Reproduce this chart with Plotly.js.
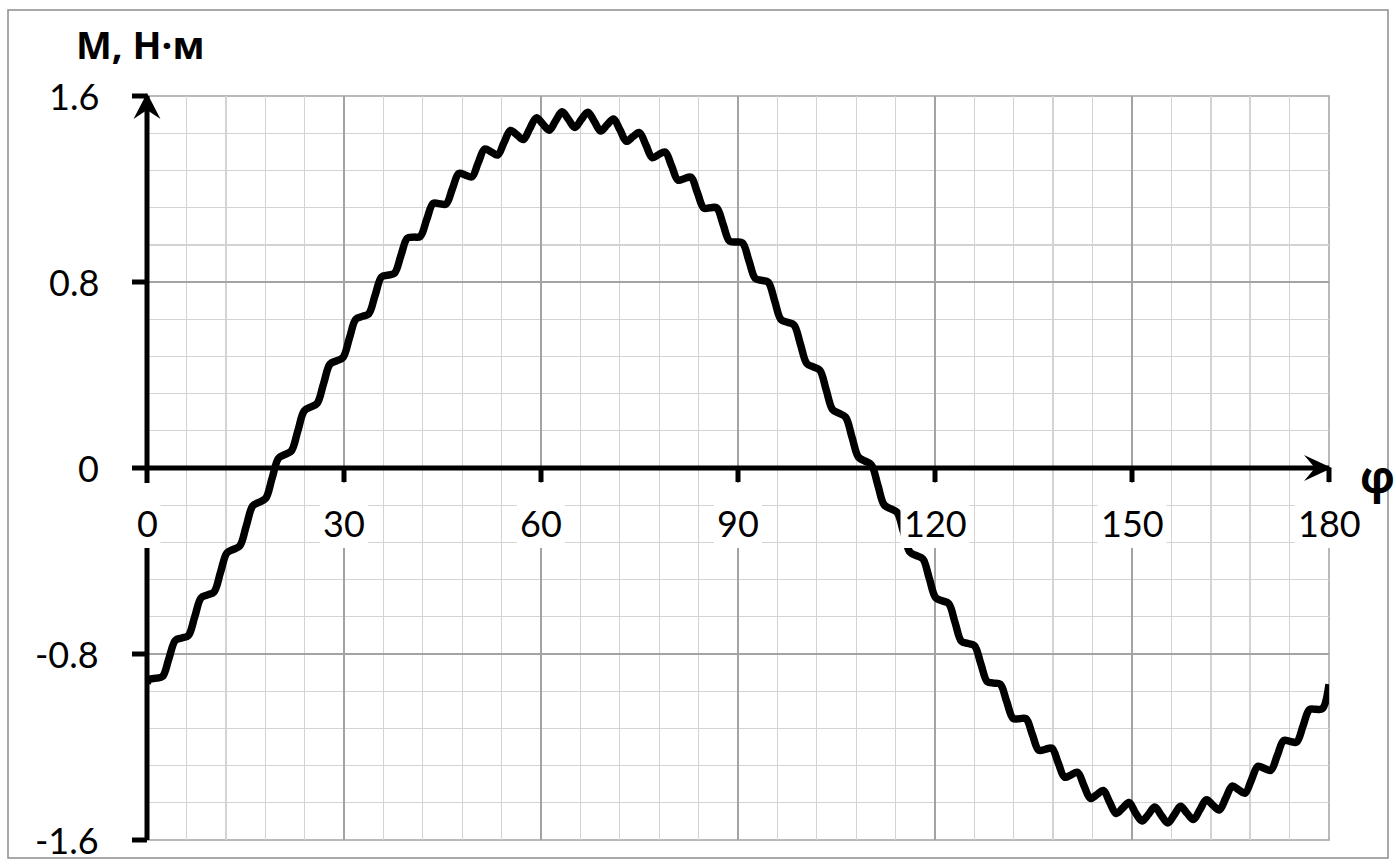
<!DOCTYPE html>
<html>
<head>
<meta charset="utf-8">
<script src="https://cdn.plot.ly/plotly-3.0.1.min.js"></script>
<style>
  html, body { margin: 0; padding: 0; background: #ffffff; }
  #chart { width: 1396px; height: 868px; }
</style>
</head>
<body>
<div id="chart"></div>
<script>
// Rotation angle, degrees
const phi = [
  0, 0.40, 1.38, 2.36, 3.34, 4.33, 5.31, 6.29, 7.27, 8.25, 9.23,
  10.21, 11.19, 12.18, 13.16, 14.14, 15.12, 16.10, 17.08, 18.06, 19.04,
  20.03, 21.01, 21.99, 22.97, 23.95, 24.93, 25.91, 26.89, 27.88, 28.86,
  29.84, 30.82, 31.80, 32.78, 33.76, 34.74, 35.73, 36.71, 37.69, 38.67,
  39.65, 40.63, 41.61, 42.59, 43.58, 44.56, 45.54, 46.52, 47.50, 48.48,
  49.46, 50.44, 51.43, 52.41, 53.39, 54.37, 55.35, 56.33, 57.31, 58.29,
  59.28, 60.26, 61.24, 62.22, 63.20, 64.18, 65.16, 66.14, 67.13, 68.11,
  69.09, 70.07, 71.05, 72.03, 73.01, 73.99, 74.98, 75.96, 76.94, 77.92,
  78.90, 79.88, 80.86, 81.84, 82.83, 83.81, 84.79, 85.77, 86.75, 87.73,
  88.71, 89.69, 90.68, 91.66, 92.64, 93.62, 94.60, 95.58, 96.56, 97.54,
  98.53, 99.51, 100.49, 101.47, 102.45, 103.43, 104.41, 105.39, 106.38, 107.36,
  108.34, 109.32, 110.30, 111.28, 112.26, 113.24, 114.23, 115.21, 116.19, 117.17,
  118.15, 119.13, 120.11, 121.09, 122.08, 123.06, 124.04, 125.02, 126.00, 126.98,
  127.96, 128.94, 129.93, 130.91, 131.89, 132.87, 133.85, 134.83, 135.81, 136.79,
  137.78, 138.76, 139.74, 140.72, 141.70, 142.68, 143.66, 144.64, 145.63, 146.61,
  147.59, 148.57, 149.55, 150.53, 151.51, 152.49, 153.48, 154.46, 155.44, 156.42,
  157.40, 158.38, 159.36, 160.34, 161.33, 162.31, 163.29, 164.27, 165.25, 166.23,
  167.21, 168.19, 169.18, 170.16, 171.14, 172.12, 173.10, 174.08, 175.06, 176.04,
  177.03, 178.01, 178.99, 180
];

// Torque, N·m
const torque = [
  -0.925, -0.909, -0.904, -0.897, -0.819, -0.741, -0.731, -0.721, -0.640, -0.558, -0.546,
  -0.533, -0.449, -0.365, -0.350, -0.335, -0.249, -0.163, -0.147, -0.131, -0.045,
  0.042, 0.058, 0.074, 0.160, 0.246, 0.262, 0.278, 0.363, 0.447, 0.461,
  0.475, 0.558, 0.640, 0.652, 0.663, 0.743, 0.822, 0.830, 0.838, 0.914,
  0.989, 0.993, 0.996, 1.068, 1.138, 1.137, 1.135, 1.202, 1.267, 1.260,
  1.252, 1.313, 1.372, 1.360, 1.346, 1.400, 1.452, 1.433, 1.413, 1.460,
  1.506, 1.480, 1.453, 1.493, 1.532, 1.499, 1.465, 1.499, 1.530, 1.491,
  1.449, 1.476, 1.501, 1.454, 1.405, 1.425, 1.443, 1.390, 1.335, 1.348,
  1.359, 1.300, 1.238, 1.245, 1.251, 1.185, 1.118, 1.119, 1.119, 1.048,
  0.976, 0.972, 0.968, 0.892, 0.815, 0.807, 0.799, 0.719, 0.638, 0.627,
  0.615, 0.532, 0.449, 0.435, 0.421, 0.336, 0.251, 0.235, 0.219, 0.133,
  0.047, 0.030, 0.014, -0.072, -0.159, -0.175, -0.191, -0.276, -0.362, -0.377,
  -0.391, -0.475, -0.558, -0.571, -0.583, -0.665, -0.746, -0.755, -0.764, -0.842,
  -0.919, -0.925, -0.930, -1.004, -1.077, -1.078, -1.078, -1.147, -1.214, -1.210,
  -1.205, -1.268, -1.330, -1.320, -1.309, -1.366, -1.421, -1.405, -1.387, -1.438,
  -1.486, -1.463, -1.439, -1.483, -1.518, -1.490, -1.458, -1.494, -1.527, -1.492,
  -1.455, -1.485, -1.512, -1.470, -1.427, -1.450, -1.471, -1.420, -1.368, -1.384,
  -1.399, -1.341, -1.283, -1.292, -1.300, -1.237, -1.172, -1.176, -1.179, -1.110,
  -1.039, -1.038, -1.035, -0.930
];

const xTickVals = [0, 30, 60, 90, 120, 150, 180];
const xTickText = ['0', '30', '60', '90', '120', '150', '180'];
const yTickVals = [-1.6, -0.8, 0, 0.8, 1.6];
const yTickText = ['-1.6', '-0.8', '0', '0.8', '1.6'];

const xRange = [0, 180];
const yRange = [-1.6, 1.6];

const yTitle = 'М, Н·м';
const xTitle = 'φ';

// ---- styling ----
const MAJOR_GRID = '#a3a3a3';
const MINOR_GRID = '#d3d3d3';
const INK = '#000000';
const LABEL_FONT = { family: 'Lato, "Open Sans", sans-serif', size: 36, color: INK };
const AXIS_W = 5;

// fraction of the plot area for a value on each axis (decorations only)
const fx = v => (v - xRange[0]) / (xRange[1] - xRange[0]);
const fy = v => (v - yRange[0]) / (yRange[1] - yRange[0]);

const shapes = [];

// outer frame around the whole figure (pixel offsets from the plot's lower-left corner)
shapes.push({
  type: 'rect', xref: 'paper', yref: 'paper',
  xsizemode: 'pixel', ysizemode: 'pixel', xanchor: 0, yanchor: 0,
  x0: -139, x1: 1241, y0: -18, y1: 830,
  line: { color: '#8c8c8c', width: 1.5 }, fillcolor: 'rgba(0,0,0,0)', layer: 'below'
});

// plot area border in major grid colour
shapes.push({
  type: 'rect', xref: 'paper', yref: 'paper', x0: 0, x1: 1, y0: 0, y1: 1,
  line: { color: MAJOR_GRID, width: 1.5 }, fillcolor: 'rgba(0,0,0,0)', layer: 'below'
});

// axis lines crossing at the origin
shapes.push({
  type: 'line', xref: 'paper', yref: 'paper',
  x0: fx(0), x1: fx(0), y0: fy(yRange[0]), y1: fy(yRange[1]),
  line: { color: INK, width: AXIS_W }, layer: 'above'
});
shapes.push({
  type: 'line', xref: 'paper', yref: 'paper',
  x0: fx(0), x1: fx(xRange[1]), y0: fy(0), y1: fy(0),
  line: { color: INK, width: AXIS_W }, layer: 'above'
});

// tick marks
yTickVals.forEach(v => shapes.push({
  type: 'line', xref: 'paper', yref: 'paper',
  xsizemode: 'pixel', xanchor: fx(0), x0: -15, x1: 0,
  y0: fy(v), y1: fy(v),
  line: { color: INK, width: AXIS_W }, layer: 'above'
}));
xTickVals.filter(v => v !== 0).forEach(v => shapes.push({
  type: 'line', xref: 'paper', yref: 'paper',
  ysizemode: 'pixel', yanchor: fy(0), y0: 0, y1: -14,
  x0: fx(v), x1: fx(v),
  line: { color: INK, width: AXIS_W }, layer: 'above'
}));

// arrowheads
shapes.push({
  type: 'path', xref: 'paper', yref: 'paper',
  xsizemode: 'pixel', ysizemode: 'pixel', xanchor: fx(0), yanchor: fy(yRange[1]),
  path: 'M 0 3 L -13.5 -23 L 0 -14 L 13.5 -23 Z',
  fillcolor: INK, line: { width: 0 }, layer: 'above'
});
shapes.push({
  type: 'path', xref: 'paper', yref: 'paper',
  xsizemode: 'pixel', ysizemode: 'pixel', xanchor: fx(xRange[1]), yanchor: fy(0),
  path: 'M 3 0 L -25 13 L -14 0 L -25 -13 Z',
  fillcolor: INK, line: { width: 0 }, layer: 'above'
});

// white boxes behind the horizontal-axis labels
xTickText.forEach((t, i) => {
  const w = t.length * 21 + 6;
  shapes.push({
    type: 'rect', xref: 'paper', yref: 'paper',
    xsizemode: 'pixel', ysizemode: 'pixel', xanchor: fx(xTickVals[i]), yanchor: fy(0),
    x0: -w / 2, x1: w / 2, y0: -15, y1: -80,
    fillcolor: '#ffffff', line: { width: 0 }, layer: 'above'
  });
});

const annotations = [];
xTickVals.forEach((v, i) => annotations.push({
  xref: 'x', yref: 'y', x: v, y: 0, text: xTickText[i],
  showarrow: false, xanchor: 'center', yanchor: 'middle', yshift: -55,
  font: LABEL_FONT
}));
yTickVals.forEach((v, i) => annotations.push({
  xref: 'x', yref: 'y', x: 0, y: v, text: yTickText[i],
  showarrow: false, xanchor: 'right', yanchor: 'middle', xshift: -46,
  font: LABEL_FONT
}));
annotations.push({
  xref: 'paper', yref: 'paper', x: 0, y: 1, text: yTitle,
  showarrow: false, xanchor: 'left', yanchor: 'middle', xshift: -73, yshift: 52,
  font: { family: '"Open Sans", sans-serif', size: 38, color: INK, weight: 'bold' }
});
annotations.push({
  xref: 'paper', yref: 'y', x: 1, y: 0, text: xTitle,
  showarrow: false, xanchor: 'center', yanchor: 'middle', xshift: 48, yshift: -8,
  font: { family: '"Open Sans", sans-serif', size: 44, color: INK, weight: 'bold' }
});

const trace = {
  x: phi, y: torque, type: 'scatter', mode: 'lines',
  line: { color: INK, width: 7.5, shape: 'spline', smoothing: 1 },
  hoverinfo: 'skip'
};

const layout = {
  width: 1396, height: 868,
  margin: { l: 147, r: 67, t: 96, b: 28, pad: 0 },
  paper_bgcolor: '#ffffff', plot_bgcolor: '#ffffff',
  showlegend: false,
  xaxis: {
    range: xRange, tick0: 0, dtick: 30, showgrid: true, gridcolor: MAJOR_GRID, gridwidth: 1.5,
    minor: { tick0: 0, dtick: 6, showgrid: true, gridcolor: MINOR_GRID, gridwidth: 1.4 },
    showticklabels: false, ticks: '', zeroline: false, showline: false, fixedrange: true
  },
  yaxis: {
    range: yRange, tick0: -1.6, dtick: 0.8, showgrid: true, gridcolor: MAJOR_GRID, gridwidth: 1.5,
    minor: { tick0: -1.6, dtick: 0.16, showgrid: true, gridcolor: MINOR_GRID, gridwidth: 1.4 },
    showticklabels: false, ticks: '', zeroline: false, showline: false, fixedrange: true
  },
  shapes: shapes,
  annotations: annotations
};

Plotly.newPlot('chart', [trace], layout, { staticPlot: true, displayModeBar: false });
</script>
</body>
</html>
